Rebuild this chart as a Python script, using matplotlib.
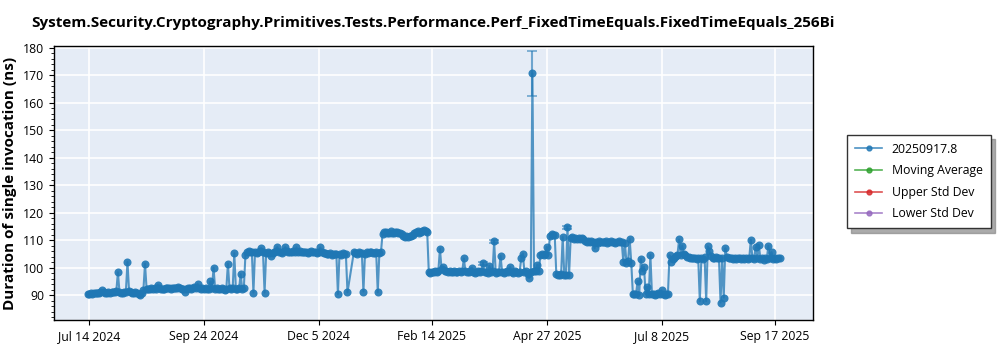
import numpy as np
import pandas as pd
import matplotlib
matplotlib.use("Agg")
import matplotlib.pyplot as plt
from matplotlib.lines import Line2D
from matplotlib.ticker import MultipleLocator

plt.rcParams["font.family"] = ["Open Sans", "DejaVu Sans"]

# Daily median duration (ns), one value per day starting 2024-07-13; nan = no run that day
first_day = "2024-07-13"
jul_2024 = [90.6, 90.5, 90.7, 90.6, 90.8, 90.7, 90.9, 91.0, 91.3, 91.8, 91.4, 91.0, 90.9, 91.1,
            91.0, 91.2, 91.1, 91.3, 91.5]
aug_2024 = [98.4, 91.2, 91.0, 90.8, 91.1, 91.4, 102.1, 91.6, 91.3, 91.0, 90.9, 91.2, 91.0, 90.6,
            90.2, 90.8, 92.0, 101.5, 92.3, 92.4, 92.2, 92.5, 92.3, 92.6, 92.4, 93.9, 92.5, 92.3,
            92.2, 92.4, 92.6]
sep_2024 = [92.7, 92.5, 92.4, 92.8, 92.6, 92.5, 92.7, 92.9, 92.6, 92.4, 92.3, 91.4, 92.2, 92.5,
            92.6, 92.4, 92.7, 93.0, 92.8, 94.2, 92.7, 92.4, 92.6, 92.3, 92.5, 92.2, 92.4, 95.1,
            92.6, 100.0]
oct_2024 = [92.3, 92.5, 92.2, 92.4, 92.6, 92.3, 92.1, 92.4, 101.5, 92.5, 92.3, 92.6, 105.3, 92.4,
            92.2, 92.5, 97.7, 92.3, 92.8, 104.8, 105.9, 106.1, 105.6, 105.8, 91.0, 105.7, 105.5,
            105.9, 106.0, 107.1, 105.6]
nov_2024 = [91.0, 105.4, 105.7, 105.3, 104.2, 105.5, 105.8, 106.0, 107.6, 105.9, 105.7, 105.5,
            106.2, 107.6, 106.0, 105.8, 105.6, 105.9, 106.1, 105.7, 107.5, 105.9, 106.2, 105.8,
            105.6, 105.9, 105.7, 105.5, 105.8, 106.0]
dec_2024 = [105.8, 105.6, 105.9, 105.5, 105.7, 107.4, 105.6, 105.3, 105.5, 105.2, 105.0, 105.4,
            104.8, 105.1, 104.9, 105.2, 90.5, 105.0, 104.8, 105.3, 105.1, 104.9, 91.1, np.nan,
            np.nan, np.nan, 105.7, 105.4, 105.2, 105.6, 105.3]
jan_2025 = [105.5, 91.4, 105.2, 105.6, 105.4, 105.7, 105.9, 105.5, 105.3, 105.6, 91.1, 105.4,
            105.7, 112.4, 112.9, 113.1, 112.6, 112.8, 113.2, 112.7, 112.5, 112.9, 113.0, 112.6,
            112.8, 112.3, 111.6, 111.3, 111.5, 111.2, 111.7]
feb_2025 = [111.4, 112.0, 112.6, 112.9, 113.2, 112.8, 113.1, 113.4, 113.6, 113.3, 113.0, 98.6,
            98.3, 98.5, 98.4, 98.7, 98.5, 98.9, 107.0, 99.5, 100.3, 99.0, 98.7, 98.5, 98.8, 98.6,
            98.4, 98.7]
mar_2025 = [98.6, 98.4, 98.7, 98.5, 98.9, 103.4, 98.7, 98.4, 98.6, 98.8, 100.1, 98.5, 98.3, 98.6,
            98.9, 98.5, 98.7, 101.6, 98.4, 98.6, 98.3, 100.7, 98.5, 98.8, 109.6, 98.2, 98.5, 98.4,
            104.3, 98.6, 98.3]
apr_2025 = [98.5, 98.7, 98.4, 100.4, 98.6, 98.3, 98.8, 98.5, 98.2, 98.6, 103.5, 105.2, 98.4, 98.7,
            97.9, 96.4, 98.5, 170.6, 98.7, 98.9, 101.2, 98.8, 104.6, 104.9, 104.5, 105.1, 107.6,
            104.8, 111.6, 112.3]
may_2025 = [112.0, 111.8, 97.6, 97.4, 97.5, 97.7, 111.2, 97.3, 97.5, 114.7, 97.4, 110.8, 111.2,
            110.6, 110.9, 110.4, 110.7, 110.5, 110.8, 110.3, 109.8, 109.5, 109.7, 109.4, 109.6,
            109.3, 107.1, 109.5, 109.2, 109.6, 109.4]
jun_2025 = [109.5, 109.3, 109.6, 109.2, 109.4, 109.7, 109.3, 109.5, 109.1, 109.4, 109.6, 109.3,
            109.5, 102.3, 109.2, 101.8, 102.4, 110.6, 101.9, 90.6, 90.4, 90.5, 95.2, 90.3, 103.3,
            98.7, 100.4, 90.5, 93.1, 90.6]
jul_2025 = [104.6, 90.4, 90.6, 90.3, 90.5, 90.7, 90.4, 91.8, 90.5, 90.3, 90.6, 90.4, 104.6, 102.3,
            103.1, 103.6, 104.2, 104.8, 110.3, 104.5, 108.1, 105.2, 104.6, 104.1, 103.8, 103.5,
            103.7, 103.4, 103.6, 103.2, 103.5]
aug_2025 = [87.9, 103.6, 103.3, 103.8, 87.9, 107.8, 106.1, 104.2, 103.7, 103.5, 103.9, 103.4,
            103.6, 87.4, 103.5, 89.2, 107.1, 104.0, 103.6, 103.4, 103.7, 103.3, 103.5, 103.2,
            103.6, 103.4, 103.1, 103.5, 103.3, 103.6, 103.2]
sep_2025 = [103.4, 110.2, 103.5, 103.2, 107.4, 103.6, 108.4, 103.3, 103.5, 102.9, 103.4, 103.2,
            108.0, 103.5, 105.7, 103.3, 103.6, 103.1, 103.4, 103.6]

# Standard deviation of the runs that had a noticeable spread
std_dev = {"2025-03-18": 0.5, "2025-03-25": 0.6, "2025-04-18": 8.0, "2025-05-10": 0.6}

tick_dates = ["2024-07-14", "2024-09-24", "2024-12-05", "2025-02-14",
              "2025-04-27", "2025-07-08", "2025-09-17"]
tick_labels = ["Jul 14 2024", "Sep 24 2024", "Dec 5 2024", "Feb 14 2025",
               "Apr 27 2025", "Jul 8 2025", "Sep 17 2025"]
legend_labels = ["20250917.8", "Moving Average", "Upper Std Dev", "Lower Std Dev"]

title = "System.Security.Cryptography.Primitives.Tests.Performance.Perf_FixedTimeEquals.FixedTimeEquals_256Bi"
ylabel = "Duration of single invocation (ns)"

values = np.array(jul_2024 + aug_2024 + sep_2024 + oct_2024 + nov_2024 + dec_2024 + jan_2025
                  + feb_2025 + mar_2025 + apr_2025 + may_2025 + jun_2025 + jul_2025 + aug_2025
                  + sep_2025, dtype=float)
dates = pd.date_range(first_day, periods=len(values), freq="D")
have = ~np.isnan(values)

errors = np.zeros(len(values))
for day, sd in std_dev.items():
    errors[dates == pd.Timestamp(day)] = sd
has_err = errors > 0

blue, green, red, purple = "#1f77b4", "#2ca02c", "#d62728", "#9467bd"

fig = plt.figure(figsize=(10, 3.5), dpi=100)
ax = fig.add_axes([0.054, 0.0857, 0.759, 0.783])
ax.set_facecolor("#E5ECF6")
ax.grid(True, color="white", linewidth=1.2)
ax.set_axisbelow(True)
for s in ax.spines.values():
    s.set_color("black")
    s.set_linewidth(1.0)

ax.plot(dates[have], values[have], color=blue, alpha=0.75, linewidth=1.5, zorder=3)
ax.plot(dates[have], values[have], linestyle="none", color=blue, alpha=0.9,
        marker="o", markersize=5.8, markeredgewidth=0, zorder=4)
ax.errorbar(dates[has_err], values[has_err], yerr=errors[has_err], fmt="none",
            ecolor=blue, alpha=0.6, elinewidth=1.5, capsize=3.5, capthick=1.2, zorder=3)

ax.set_xlim(pd.Timestamp("2024-06-21 22:00"), pd.Timestamp("2025-10-11"))
ax.set_ylim(81.05, 180.6)
ax.set_xticks(pd.to_datetime(tick_dates))
ax.set_xticklabels(tick_labels)
ax.yaxis.set_major_locator(MultipleLocator(10))
ax.yaxis.set_minor_locator(MultipleLocator(2))
ax.tick_params(axis="both", which="major", labelsize=8.8, length=3.5, color="black")
ax.tick_params(axis="y", which="minor", length=2, color="black")
ax.tick_params(axis="x", which="minor", length=0)
ax.set_ylabel(ylabel, fontsize=11, fontweight="bold", labelpad=4)
ax.set_title(title, fontsize=11, fontweight="bold", pad=14)

handles = [Line2D([], [], color=c, marker="o", markersize=3.5, linewidth=1.2, alpha=0.8)
           for c in (blue, green, red, purple)]
leg = ax.legend(handles, legend_labels, loc="center left", bbox_to_anchor=(1.037, 0.505),
                fontsize=8.8, frameon=True, fancybox=False,
                shadow={"color": "#888888", "alpha": 0.7, "ox": 3, "oy": -3},
                edgecolor="#333333", handlelength=2.2, borderpad=0.65, labelspacing=0.7)
leg.get_frame().set_linewidth(1.0)

fig.savefig("out.png", dpi=100)
